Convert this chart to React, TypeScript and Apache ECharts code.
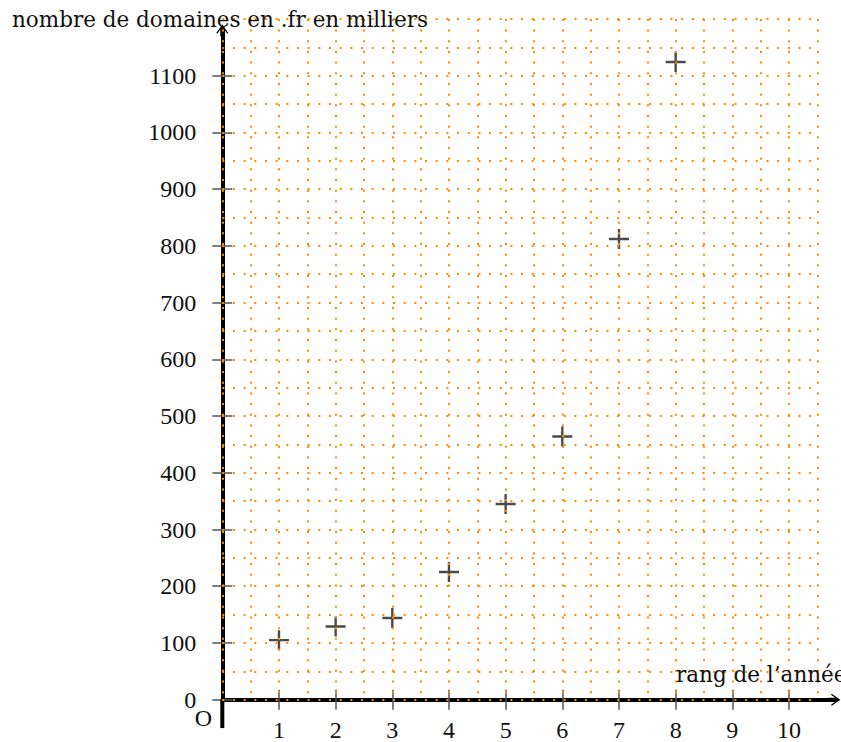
import { useEffect, useRef } from "react";
import * as echarts from "echarts";

const ranks = [1, 2, 3, 4, 5, 6, 7, 8];
const domainsK = [105, 129, 144, 225, 345, 464, 812, 1124];
const xTickValues = [1, 2, 3, 4, 5, 6, 7, 8, 9, 10];
const yTickValues = [0, 100, 200, 300, 400, 500, 600, 700, 800, 900, 1000, 1100];
const yTitle = "nombre de domaines en .fr en milliers";
const xTitle = "rang de l\u2019année";
const originLabel = "O";

const ORANGE = "#ff8c00";
const X0 = 222.3;
const Y0 = 699.7;
const SX = 56.67;
const SY = 0.5673;

const ARROW = "path://M6,0 L12,8.6 L11,9.4 L8,5.1 L8,12 L4,12 L4,5.1 L1,9.4 L0,8.6 Z";
const PLUS = "path://M8.8,0 H11.2 V8.8 H20 V11.2 H11.2 V20 H8.8 V11.2 H0 V8.8 H8.8 Z";

export default function App() {
  const ref = useRef<HTMLDivElement>(null);
  useEffect(() => {
    const chart = echarts.init(ref.current!, null, { renderer: "svg" });
    const dotted = { color: ORANGE, width: 2, type: [2, 8.67] as any };
    const tickStyle = { color: "#555", width: 1.5 };
    const labelFont = { fontFamily: "Liberation Serif", fontSize: 24, color: "#111" };
    const plain = (v: number) => String(v);
    const gridRect = {
      left: X0,
      top: Y0 - 1200 * SY,
      width: 10.5 * SX,
      height: 1200 * SY,
      outerBoundsMode: "none",
      containLabel: false,
    };
    const option: any = {
      animation: false,
      grid: [
        gridRect,
        {
          left: X0,
          top: Y0 - 1180 * SY,
          width: 10.8 * SX,
          height: 1180 * SY,
          outerBoundsMode: "none",
          containLabel: false,
        },
        gridRect,
      ],
      xAxis: [
        {
          type: "value",
          gridIndex: 0,
          min: 0,
          max: 10.5,
          interval: 0.5,
          z: 3,
          axisLine: { show: false },
          axisTick: { show: false },
          axisLabel: { show: false },
          splitLine: { show: true, lineStyle: dotted },
        },
        {
          type: "value",
          gridIndex: 1,
          min: 0,
          max: 10.8,
          z: 0,
          axisLine: {
            show: true,
            lineStyle: { color: "#000", width: 4 },
            symbol: ["none", ARROW],
            symbolSize: [12, 12],
          },
          axisTick: { show: true, inside: false, length: 10, lineStyle: tickStyle, customValues: xTickValues },
          axisLabel: { show: true, margin: 18, customValues: xTickValues, formatter: plain, ...labelFont },
          splitLine: { show: false },
        },
        {
          type: "value",
          gridIndex: 2,
          min: 0,
          max: 10.5,
          z: 1,
          axisLine: { show: false },
          axisTick: { show: true, inside: true, length: 10, lineStyle: tickStyle, customValues: xTickValues },
          axisLabel: { show: false },
          splitLine: { show: false },
        },
      ],
      yAxis: [
        {
          type: "value",
          gridIndex: 0,
          min: 0,
          max: 1200,
          interval: 50,
          z: 3,
          axisLine: { show: false },
          axisTick: { show: false },
          axisLabel: { show: false },
          splitLine: { show: true, lineStyle: dotted },
        },
        {
          type: "value",
          gridIndex: 1,
          min: 0,
          max: 1180,
          z: 0,
          axisLine: {
            show: true,
            lineStyle: { color: "#000", width: 4 },
            symbol: ["none", ARROW],
            symbolSize: [12, 12],
          },
          axisTick: { show: true, inside: false, length: 10, lineStyle: tickStyle, customValues: yTickValues },
          axisLabel: { show: true, margin: 26, customValues: yTickValues, formatter: plain, ...labelFont },
          splitLine: { show: false },
        },
        {
          type: "value",
          gridIndex: 2,
          min: 0,
          max: 1200,
          z: 1,
          axisLine: { show: false },
          axisTick: { show: true, inside: true, length: 10, lineStyle: tickStyle, customValues: yTickValues },
          axisLabel: { show: false },
          splitLine: { show: false },
        },
      ],
      series: [
        {
          type: "scatter",
          xAxisIndex: 1,
          yAxisIndex: 1,
          data: ranks.map((r, i) => [r, domainsK[i]]),
          symbol: PLUS,
          symbolSize: 20,
          itemStyle: { color: "#1e1e1e" },
          z: 2,
        },
      ],
      graphic: [
        {
          type: "text",
          left: 12,
          top: 8,
          style: {
            text: yTitle,
            fontFamily: "DejaVu Serif",
            fontSize: 21.5,
            fill: "#111",
          },
          z: 10,
        },
        {
          type: "text",
          x: 676,
          y: 674.3,
          style: {
            text: xTitle,
            fontFamily: "DejaVu Serif",
            fontSize: 21.5,
            fill: "#111",
            verticalAlign: "middle",
          },
          z: 10,
        },
        {
          type: "text",
          x: 203.5,
          y: 718,
          style: {
            text: originLabel,
            fontFamily: "Liberation Serif",
            fontSize: 24,
            fill: "#111",
            align: "center",
            verticalAlign: "middle",
          },
          z: 10,
        },
      ],
    };
    chart.setOption(option);
    const finder = { xAxisIndex: 1, yAxisIndex: 1 };
    const p0 = chart.convertToPixel(finder, [0, 0]) as number[];
    const p1 = chart.convertToPixel(finder, [0, -50]) as number[];
    chart.setOption({
      graphic: [
        {},
        {},
        {},
        {
          type: "line",
          shape: { x1: p0[0], y1: p0[1], x2: p1[0], y2: p1[1] },
          style: { stroke: "#000", lineWidth: 4 },
          z: 1,
        },
      ],
    });
    return () => chart.dispose();
  }, []);
  return (
    <div
      ref={ref}
      style={{ position: "absolute", left: 0, top: 0, width: 841, height: 742 }}
    />
  );
}
